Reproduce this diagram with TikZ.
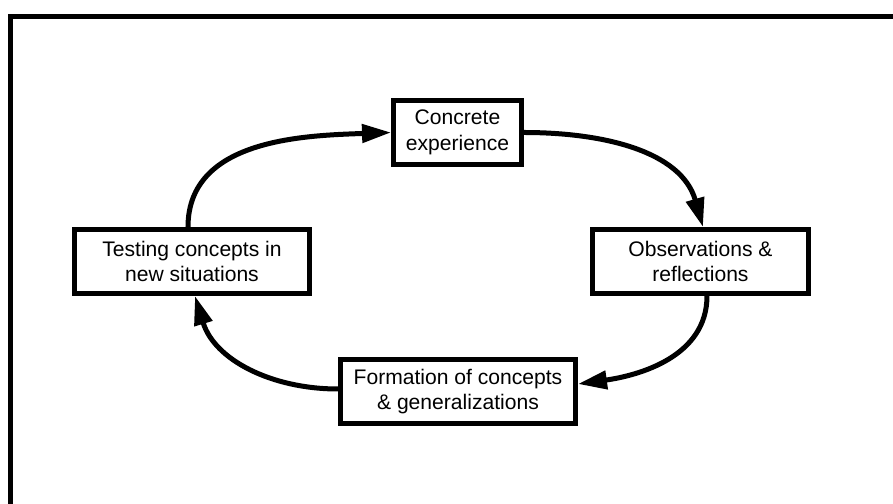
\documentclass[tikz,border=0pt]{standalone}
\usepackage{fontspec}
\setmainfont{Liberation Sans}
\usepackage{tikz}
\usetikzlibrary{arrows.meta}
\pgfdeclarelayer{bg}
\pgfsetlayers{bg,main}

\begin{document}
\begin{tikzpicture}[
        stage/.style={draw, line width=0.1cm, fill=white, align=center, inner sep=0pt,
                minimum height=1.28cm, font=\fontsize{12}{14.6}\selectfont},
        cyc/.style={line width=0.1cm, -{Triangle[length=0.58cm, width=0.36cm]}}]
        \useasboundingbox (-8.93cm, -5.04cm) rectangle (8.93cm, 5.04cm);
        \draw [line width=0.11cm] (-8.716cm, -5.2cm) -- (-8.716cm, 4.71cm) -- (9.1cm, 4.71cm);
        \node (ce) [stage, minimum width=2.56cm] at (0.220000cm, 2.390000cm) {Concrete\\experience};
        \node (ob) [stage, minimum width=4.32cm] at (5.080000cm, -0.190000cm) {Observations \&\\reflections};
        \node (fc) [stage, minimum width=4.70cm] at (0.230000cm, -2.790000cm) {Formation of concepts\\\& generalizations};
        \node (tc) [stage, minimum width=4.70cm] at (-5.090000cm, -0.190000cm) {Testing concepts in\\new situations};
        \begin{pgfonlayer}{bg}
                \draw ([xshift=-0.08cm]tc.north) edge [cyc, out=90, in=182] (ce.west);
                \draw (ce.east) edge [cyc, out=0, in=106] ([xshift=0.05cm]ob.north);
                \draw ([xshift=0.13cm]ob.south) edge [cyc, out=-90, in=8] ([yshift=0.15cm]fc.east);
                \draw ([yshift=0.05cm]fc.west) edge [cyc, out=180, in=-73] ([xshift=0.06cm]tc.south);
        \end{pgfonlayer}
\end{tikzpicture}
\end{document}
